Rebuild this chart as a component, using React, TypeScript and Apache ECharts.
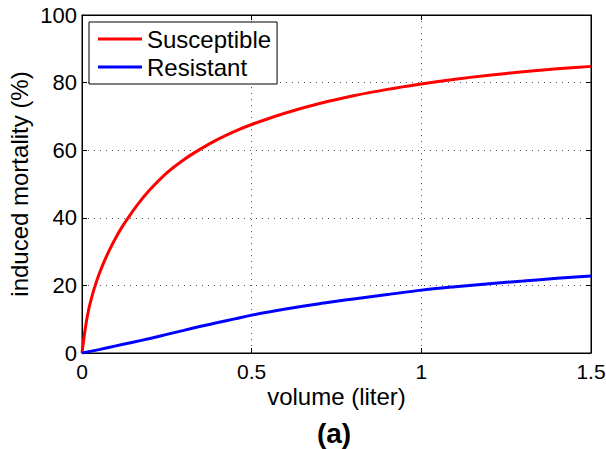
import React, { useEffect, useRef } from "react";
import * as echarts from "echarts";

const volume = [0, 0.01, 0.02, 0.03, 0.04, 0.05, 0.06, 0.08, 0.1, 0.12, 0.14, 0.17, 0.2, 0.25, 0.3, 0.35, 0.4, 0.45, 0.5, 0.6, 0.7, 0.8, 0.9, 1.0, 1.1, 1.2, 1.3, 1.4, 1.5];
const susceptible = [0, 7.5, 13, 17, 20.3, 23.2, 25.8, 30.3, 34.2, 37.6, 40.6, 44.7, 48.3, 53.3, 57.2, 60.4, 63.2, 65.6, 67.6, 71, 73.8, 76.1, 78, 79.6, 81, 82.2, 83.2, 84.1, 84.8];
const resistantVolume = [0, 0.05, 0.1, 0.15, 0.2, 0.25, 0.3, 0.35, 0.4, 0.45, 0.5, 0.6, 0.7, 0.75, 0.8, 0.9, 1.0, 1.1, 1.2, 1.3, 1.4, 1.5];
const resistant = [0, 1, 2.1, 3.2, 4.3, 5.5, 6.7, 7.9, 9.0, 10.1, 11.2, 13.0, 14.6, 15.3, 16.0, 17.3, 18.6, 19.6, 20.5, 21.3, 22.1, 22.8];
const seriesNames = ["Susceptible", "Resistant"];
const xTicks = [0, 0.5, 1, 1.5];
const yTicks = [0, 20, 40, 60, 80, 100];

const FONT = "'Liberation Sans', Arial, Helvetica, sans-serif";
const FS = 24;

export default function App() {
  const ref = useRef<HTMLDivElement>(null);
  useEffect(() => {
    if (!ref.current) return;
    const chart = echarts.init(ref.current, undefined, { renderer: "svg" });
    const gridLine = { show: true, lineStyle: { color: "#555", type: [1, 5] as any, width: 1 } };
    const xCommon = {
      type: "value" as const,
      min: 0,
      max: 1.5,
      interval: 0.5,
      axisLine: { show: true, onZero: false, lineStyle: { color: "#000", width: 1 } },
      axisTick: { show: true, inside: true, length: 5, lineStyle: { color: "#000" } },
    };
    const yCommon = {
      type: "value" as const,
      min: 0,
      max: 100,
      interval: 20,
      axisLine: { show: true, onZero: false, lineStyle: { color: "#000", width: 1 } },
      axisTick: { show: true, inside: true, length: 5, lineStyle: { color: "#000" } },
    };
    chart.setOption({
      animation: false,
      backgroundColor: "#fff",
      textStyle: { fontFamily: FONT },
      grid: {
        left: 82,
        right: 15,
        top: 15,
        bottom: 96,
        show: true,
        borderColor: "#000",
        borderWidth: 1,
        outerBoundsMode: "none",
        containLabel: false,
      },
      legend: {
        data: seriesNames,
        orient: "vertical",
        left: 89,
        top: 22,
        padding: [5, 6, 5, 9],
        itemGap: 4,
        itemWidth: 44,
        itemHeight: 3,
        icon: "rect",
        backgroundColor: "#fff",
        borderColor: "#000",
        borderWidth: 1,
        textStyle: { fontSize: FS, color: "#000", fontFamily: FONT },
      },
      xAxis: [
        {
          ...xCommon,
          position: "bottom",
          name: "volume (liter)",
          nameLocation: "middle",
          nameGap: 31,
          nameMoveOverlap: false,
          nameTextStyle: { fontSize: FS, color: "#000", fontFamily: FONT },
          axisLabel: {
            fontSize: 21,
            color: "#000",
            margin: 8,
            fontFamily: FONT,
            formatter: (v: number) => (xTicks.includes(v) ? String(v) : ""),
          },
          splitLine: gridLine,
        },
        { ...xCommon, position: "top", axisLabel: { show: false }, splitLine: { show: false } },
      ],
      yAxis: [
        {
          ...yCommon,
          position: "left",
          name: "induced mortality (%)",
          nameLocation: "middle",
          nameGap: 51,
          nameMoveOverlap: false,
          nameTextStyle: { fontSize: FS, color: "#000", fontFamily: FONT },
          axisLabel: {
            fontSize: 22,
            color: "#000",
            margin: 5,
            fontFamily: FONT,
            formatter: (v: number) => (yTicks.includes(v) ? String(v) : ""),
          },
          splitLine: gridLine,
        },
        { ...yCommon, position: "right", axisLabel: { show: false }, splitLine: { show: false } },
      ],
      series: [
        {
          name: seriesNames[0],
          type: "line",
          data: volume.map((v, i) => [v, susceptible[i]]),
          smooth: 0.3,
          symbol: "none",
          lineStyle: { color: "#ff0000", width: 3 },
          itemStyle: { color: "#ff0000" },
          z: 3,
        },
        {
          name: seriesNames[1],
          type: "line",
          data: resistantVolume.map((v, i) => [v, resistant[i]]),
          smooth: 0.3,
          symbol: "none",
          lineStyle: { color: "#0000ff", width: 3 },
          itemStyle: { color: "#0000ff" },
          z: 3,
        },
      ],
      graphic: [
        {
          type: "text",
          x: 334,
          y: 433,
          style: {
            text: "(a)",
            font: `bold 28px ${FONT}`,
            fill: "#000",
            textAlign: "center",
            textVerticalAlign: "middle",
          },
        },
      ],
    });
    return () => chart.dispose();
  }, []);
  return <div ref={ref} style={{ width: 606, height: 449, position: "absolute", left: 0, top: 0 }} />;
}
